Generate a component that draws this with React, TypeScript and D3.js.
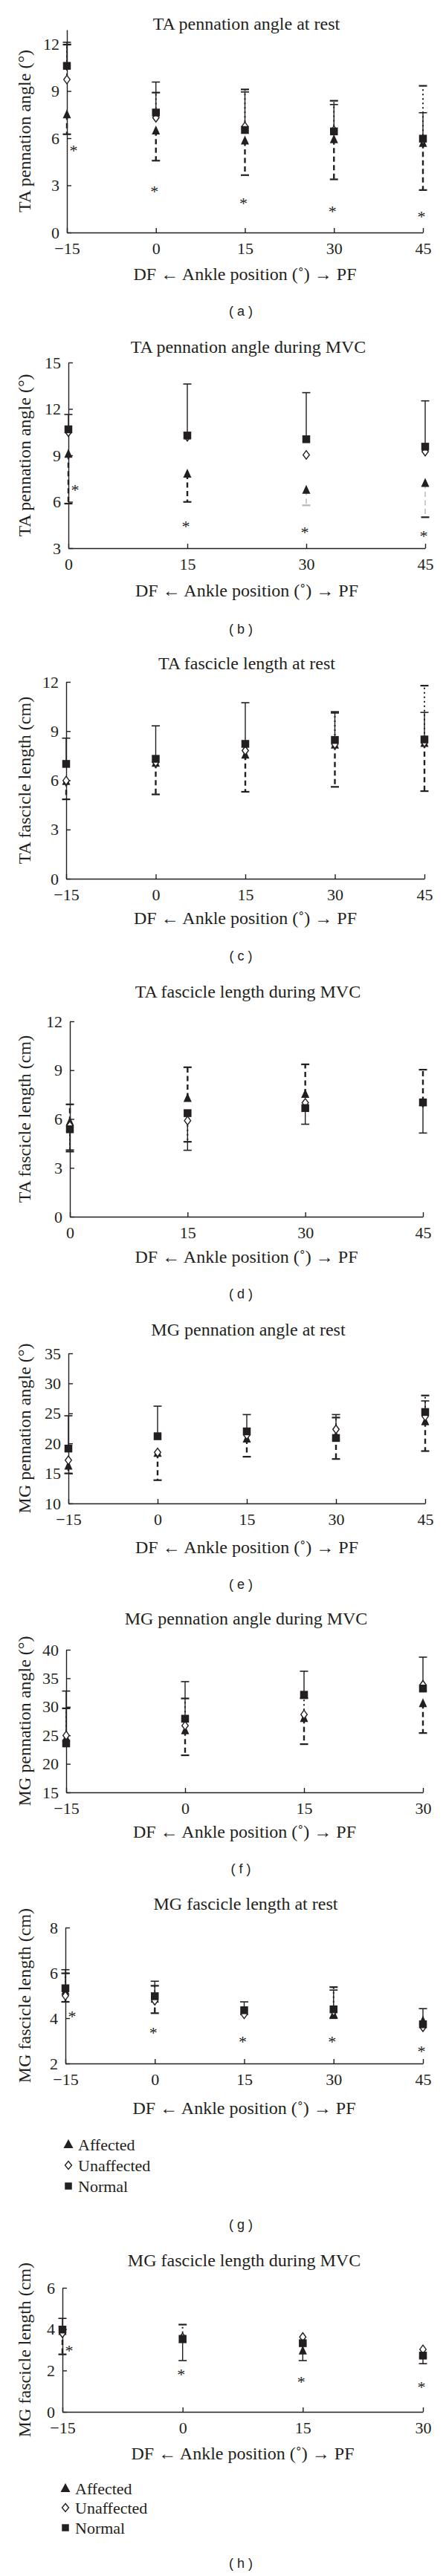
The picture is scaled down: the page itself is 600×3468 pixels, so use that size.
import React from 'react';
import * as d3 from 'd3';

const SERIF = '"Liberation Serif", "Times New Roman", serif';
const SANS = '"Liberation Sans", Arial, sans-serif';
const INK = '#231f20';

type V = number | null;

// ---------- (a) TA pennation angle at rest ----------
const aPositions = [-15, 0, 15, 30, 45];
const aYTicks = [0, 3, 6, 9, 12];
const aAffected = [7.5, 6.48, 5.84, 5.92, 5.68];
const aUnaffected = [9.73, 7.3, 6.75, 6.5, 5.9];
const aNormal = [10.6, 7.63, 6.52, 6.43, 5.97];
const aAffectedSD: V[] = [6.25, 4.57, 3.65, 3.38, 2.7];
const aUnaffectedSD: V[] = [11.95, 8.9, 9.1, 8.38, 9.33];
const aNormalSD: V[] = [12.1, 9.57, 8.94, 8.14, 7.62];
const aStars: V[] = [5.37, 2.75, 2.03, 1.48, 1.16];

// ---------- (b) TA pennation angle during MVC ----------
const bPositions = [0, 15, 30, 45];
const bYTicks = [3, 6, 9, 12, 15];
const bAffected = [9.08, 7.8, 6.76, 7.2];
const bUnaffected = [10.5, 10.2, 9.03, 9.24];
const bNormal = [10.68, 10.28, 10.04, 9.56];
const bAffectedSD: V[] = [5.88, 5.99, 5.77, 5.0];
const bUnaffectedSD: V[] = [null, null, null, null];
const bNormalSD: V[] = [11.64, 13.61, 13.05, 12.52];
const bStars: V[] = [6.92, 4.55, 4.17, 3.96];

// ---------- (c) TA fascicle length at rest ----------
const cPositions = [-15, 0, 15, 30, 45];
const cYTicks = [0, 3, 6, 9, 12];
const cAffected = [5.94, 7.05, 7.55, 8.16, 8.27];
const cUnaffected = [5.98, 7.1, 7.81, 8.2, 8.3];
const cNormal = [7.0, 7.31, 8.22, 8.46, 8.49];
const cAffectedSD: V[] = [4.84, 5.14, 5.3, 5.6, 5.34];
const cUnaffectedSD: V[] = [null, null, null, 10.17, 11.77];
const cNormalSD: V[] = [8.57, 9.32, 10.73, 10.1, 10.14];
const cStars: V[] = [null, null, null, null, null];

// ---------- (d) TA fascicle length during MVC ----------
const dPositions = [0, 15, 30, 45];
const dYTicks = [0, 3, 6, 9, 12];
const dAffected = [5.83, 7.28, 7.53, 7.05];
const dUnaffected = [5.6, 5.9, 7.0, 7.0];
const dNormal = [5.37, 6.36, 6.67, 7.02];
const dAffectedSD: V[] = [6.9, 9.18, 9.36, 9.03];
const dUnaffectedSD: V[] = [4.0, 4.6, null, null];
const dNormalSD: V[] = [4.1, 4.08, 5.68, 5.14];
const dStars: V[] = [null, null, null, null];

// ---------- (e) MG pennation angle at rest ----------
const ePositions = [-15, 0, 15, 30, 45];
const eYTicks = [10, 15, 20, 25, 30, 35];
const eAffected = [16.26, 18.4, 20.78, 21.2, 23.66];
const eUnaffected = [17.2, 18.5, 21.4, 22.35, 24.5];
const eNormal = [19.14, 21.19, 22.0, 20.9, 25.23];
const eAffectedSD: V[] = [15.0, 13.87, 17.78, 17.4, 18.72];
const eUnaffectedSD: V[] = [null, null, null, 24.3, 27.98];
const eNormalSD: V[] = [24.6, 26.2, 24.8, 24.8, 27.08];
const eStars: V[] = [null, null, null, null, null];

// ---------- (f) MG pennation angle during MVC ----------
const fPositions = [-15, 0, 15, 30];
const fYTicks = [15, 20, 25, 30, 35, 40];
const fAffected = [24.53, 25.83, 28.0, 30.6];
const fUnaffected = [24.97, 26.7, 28.65, 33.85];
const fNormal = [23.58, 27.91, 32.11, 33.2];
const fAffectedSD: V[] = [null, 21.5, 23.45, 25.4];
const fUnaffectedSD: V[] = [29.73, 31.46, 31.5, null];
const fNormalSD: V[] = [32.76, 34.41, 36.23, 38.7];
const fStars: V[] = [null, null, null, null];

// ---------- (g) MG fascicle length at rest ----------
const gPositions = [-15, 0, 15, 30, 45];
const gYTicks = [2, 4, 6, 8];
const gAffected = [5.2, 4.85, 4.3, 4.17, 3.89];
const gUnaffected = [4.99, 4.77, 4.17, 4.3, 3.6];
const gNormal = [5.32, 4.97, 4.35, 4.39, 3.73];
const gAffectedSD: V[] = [4.72, 4.22, null, 4.0, null];
const gUnaffectedSD: V[] = [5.98, 5.43, null, 5.37, null];
const gNormalSD: V[] = [6.14, 5.63, 4.72, 5.24, 4.42];
const gStars: V[] = [4.17, 3.46, 3.05, 3.05, 2.64];

// ---------- (h) MG fascicle length during MVC ----------
const hPositions = [-15, 0, 15, 30];
const hYTicks = [0, 2, 4, 6];
const hAffected = [3.9, 3.5, 2.96, 2.8];
const hUnaffected = [3.8, 3.6, 3.62, 3.02];
const hNormal = [3.98, 3.53, 3.32, 2.72];
const hAffectedSD: V[] = [2.78, null, null, null];
const hUnaffectedSD: V[] = [null, 4.22, null, null];
const hNormalSD: V[] = [4.52, 2.48, 2.48, 2.33];
const hStars: V[] = [3.08, 1.94, 1.57, 1.3];

const legendLabels = ['Affected', 'Unaffected', 'Normal'];
const xAxisLabel = 'DF \u2190 Ankle position (\u02DA) \u2192 PF';

interface Panel {
  tag: string; title: string; yLabel: string;
  positions: number[]; yTicks: number[]; yMin: number; yMax: number;
  left: number; right: number; top: number; bottom: number;
  titleY: number; xLabelY: number; tagY: number;
  affected: number[]; unaffected: number[]; normal: number[];
  affectedSD: V[]; unaffectedSD: V[]; normalSD: V[]; stars: V[];
  faint?: number[];
  legend?: { x: number; rows: number[] };
}

const panels: Panel[] = [
  { tag: 'a', title: 'TA pennation angle at rest', yLabel: 'TA pennation angle (\u00B0)',
    positions: aPositions, yTicks: aYTicks, yMin: 0, yMax: 12.9,
    left: 90, right: 569, top: 40, bottom: 313, titleY: 32, xLabelY: 369, tagY: 419,
    affected: aAffected, unaffected: aUnaffected, normal: aNormal,
    affectedSD: aAffectedSD, unaffectedSD: aUnaffectedSD, normalSD: aNormalSD, stars: aStars },
  { tag: 'b', title: 'TA pennation angle during MVC', yLabel: 'TA pennation angle (\u00B0)',
    positions: bPositions, yTicks: bYTicks, yMin: 3, yMax: 15,
    left: 92, right: 572, top: 488, bottom: 738, titleY: 467, xLabelY: 795, tagY: 847,
    affected: bAffected, unaffected: bUnaffected, normal: bNormal,
    affectedSD: bAffectedSD, unaffectedSD: bUnaffectedSD, normalSD: bNormalSD, stars: bStars,
    faint: [0, 0, 2, 1] },
  { tag: 'c', title: 'TA fascicle length at rest', yLabel: 'TA fascicle length (cm)',
    positions: cPositions, yTicks: cYTicks, yMin: 0, yMax: 12,
    left: 89, right: 571, top: 918, bottom: 1183, titleY: 893, xLabelY: 1236, tagY: 1287,
    affected: cAffected, unaffected: cUnaffected, normal: cNormal,
    affectedSD: cAffectedSD, unaffectedSD: cUnaffectedSD, normalSD: cNormalSD, stars: cStars },
  { tag: 'd', title: 'TA fascicle length during MVC', yLabel: 'TA fascicle length (cm)',
    positions: dPositions, yTicks: dYTicks, yMin: 0, yMax: 12,
    left: 94, right: 569, top: 1375, bottom: 1638, titleY: 1335, xLabelY: 1692, tagY: 1742,
    affected: dAffected, unaffected: dUnaffected, normal: dNormal,
    affectedSD: dAffectedSD, unaffectedSD: dUnaffectedSD, normalSD: dNormalSD, stars: dStars },
  { tag: 'e', title: 'MG pennation angle at rest', yLabel: 'MG pennation angle (\u00B0)',
    positions: ePositions, yTicks: eYTicks, yMin: 10, yMax: 35,
    left: 92, right: 572, top: 1822, bottom: 2024, titleY: 1790, xLabelY: 2083, tagY: 2133,
    affected: eAffected, unaffected: eUnaffected, normal: eNormal,
    affectedSD: eAffectedSD, unaffectedSD: eUnaffectedSD, normalSD: eNormalSD, stars: eStars },
  { tag: 'f', title: 'MG pennation angle during MVC', yLabel: 'MG pennation angle (\u00B0)',
    positions: fPositions, yTicks: fYTicks, yMin: 15, yMax: 40,
    left: 89, right: 569, top: 2221, bottom: 2413, titleY: 2179, xLabelY: 2466, tagY: 2516,
    affected: fAffected, unaffected: fUnaffected, normal: fNormal,
    affectedSD: fAffectedSD, unaffectedSD: fUnaffectedSD, normalSD: fNormalSD, stars: fStars },
  { tag: 'g', title: 'MG fascicle length at rest', yLabel: 'MG fascicle length (cm)',
    positions: gPositions, yTicks: gYTicks, yMin: 2, yMax: 8,
    left: 88, right: 569, top: 2595, bottom: 2778, titleY: 2563, xLabelY: 2838, tagY: 2995,
    affected: gAffected, unaffected: gUnaffected, normal: gNormal,
    affectedSD: gAffectedSD, unaffectedSD: gUnaffectedSD, normalSD: gNormalSD, stars: gStars,
    legend: { x: 92, rows: [2887, 2915, 2943] } },
  { tag: 'h', title: 'MG fascicle length during MVC', yLabel: 'MG fascicle length (cm)',
    positions: hPositions, yTicks: hYTicks, yMin: 0, yMax: 6,
    left: 84, right: 569, top: 3080, bottom: 3247, titleY: 3043, xLabelY: 3303, tagY: 3451,
    affected: hAffected, unaffected: hUnaffected, normal: hNormal,
    affectedSD: hAffectedSD, unaffectedSD: hUnaffectedSD, normalSD: hNormalSD, stars: hStars,
    legend: { x: 88, rows: [3350, 3376, 3403] } },
];

function trianglePath(w: number, h: number) {
  const p = d3.path();
  p.moveTo(0, -h * 0.58);
  p.lineTo(w / 2, h * 0.42);
  p.lineTo(-w / 2, h * 0.42);
  p.closePath();
  return p.toString();
}
function diamondPath(w: number, h: number) {
  const p = d3.path();
  p.moveTo(0, -h / 2);
  p.lineTo(w / 2, 0);
  p.lineTo(0, h / 2);
  p.lineTo(-w / 2, 0);
  p.closePath();
  return p.toString();
}
function squarePath(s: number) {
  const p = d3.path();
  p.rect(-s / 2, -s / 2, s, s);
  return p.toString();
}

type Sel = d3.Selection<any, unknown, null, undefined>;

function drawPanel(svg: Sel, p: Panel) {
  const x = d3.scaleLinear().domain([p.positions[0], p.positions[p.positions.length - 1]]).range([p.left, p.right]);
  const y = d3.scaleLinear().domain([p.yMin, p.yMax]).range([p.bottom, p.top]);
  const g = svg.append('g');

  const txt = (sel: Sel, size: number, family = SERIF) =>
    sel.attr('fill', INK).style('font-family', family).style('font-size', `${size}px`);

  txt(g.append('text'), 24)
    .attr('x', (p.left + p.right) / 2 + 2).attr('y', p.titleY)
    .attr('text-anchor', 'middle').attr('dominant-baseline', 'central').text(p.title);

  // axes
  const yAxis = d3.axisLeft(y).tickValues(p.yTicks).tickSize(-6).tickSizeOuter(0).tickPadding(10)
    .tickFormat(d3.format('d'));
  const ya = g.append('g').attr('transform', `translate(${p.left},0)`).call(yAxis as any);
  const xAxis = d3.axisBottom(x).tickValues(p.positions).tickSize(-6).tickSizeOuter(0).tickPadding(13)
    .tickFormat((d: any) => (d < 0 ? '\u2212' + Math.abs(d) : String(d)));
  const xa = g.append('g').attr('transform', `translate(0,${p.bottom})`).call(xAxis as any);
  [ya, xa].forEach((a) => {
    a.attr('font-family', null).attr('font-size', null);
    a.select('.domain').attr('stroke', INK).attr('stroke-width', 1.4);
    a.selectAll('.tick line').attr('stroke', INK).attr('stroke-width', 1.4);
    a.selectAll('.tick text').attr('fill', INK).style('font-family', SERIF).style('font-size', '22px');
  });

  txt(g.append('text'), 24)
    .attr('transform', `translate(33,${(p.top + p.bottom) / 2}) rotate(-90)`)
    .attr('text-anchor', 'middle').attr('dominant-baseline', 'central').text(p.yLabel);
  txt(g.append('text'), 24)
    .attr('x', (p.left + p.right) / 2).attr('y', p.xLabelY)
    .attr('text-anchor', 'middle').attr('dominant-baseline', 'central').text(xAxisLabel);
  txt(g.append('text'), 18, SANS)
    .attr('x', 324).attr('y', p.tagY)
    .attr('text-anchor', 'middle').attr('dominant-baseline', 'central')
    .style('white-space', 'pre').text(`( ${p.tag} )`);

  // error bars
  const plot = g.append('g');
  const series: { means: number[]; sd: V[]; kind: string }[] = [
    { means: p.affected, sd: p.affectedSD, kind: 'dashed' },
    { means: p.unaffected, sd: p.unaffectedSD, kind: 'dotted' },
    { means: p.normal, sd: p.normalSD, kind: 'solid' },
  ];
  series.forEach((s) => {
    p.positions.forEach((pos, i) => {
      const end = s.sd[i];
      if (end == null) return;
      const cx = x(pos);
      const faintLevel = s.kind === 'dashed' && p.faint ? p.faint[i] : 0;
      const lineColor = faintLevel ? '#b5b5b5' : INK;
      const capColor = faintLevel === 2 ? '#b5b5b5' : INK;
      const ln = plot.append('line')
        .attr('x1', cx).attr('x2', cx).attr('y1', y(s.means[i])).attr('y2', y(end))
        .attr('stroke', lineColor);
      if (s.kind === 'dashed') ln.attr('stroke-width', faintLevel ? 1.4 : 2.4).attr('stroke-dasharray', '7,4.5');
      else if (s.kind === 'dotted') ln.attr('stroke-width', 2).attr('stroke-dasharray', '2,4');
      else ln.attr('stroke-width', 1.4);
      plot.append('line')
        .attr('x1', cx - 5.5).attr('x2', cx + 5.5).attr('y1', y(end)).attr('y2', y(end))
        .attr('stroke', capColor).attr('stroke-width', s.kind === 'solid' ? 1.6 : 2.2);
    });
  });

  // markers: affected, unaffected, normal
  p.positions.forEach((pos, i) => {
    plot.append('path').attr('d', trianglePath(11, 12))
      .attr('transform', `translate(${x(pos)},${y(p.affected[i])})`).attr('fill', INK);
  });
  p.positions.forEach((pos, i) => {
    plot.append('path').attr('d', diamondPath(8.5, 11.5))
      .attr('transform', `translate(${x(pos)},${y(p.unaffected[i])})`)
      .attr('fill', '#fff').attr('stroke', INK).attr('stroke-width', 1.4);
  });
  p.positions.forEach((pos, i) => {
    plot.append('path').attr('d', squarePath(10.5))
      .attr('transform', `translate(${x(pos)},${y(p.normal[i])})`).attr('fill', INK);
  });

  // significance stars
  p.positions.forEach((pos, i) => {
    const v = p.stars[i];
    if (v == null) return;
    txt(plot.append('text'), 22)
      .attr('x', x(pos) + (i === 0 ? 9 : -2)).attr('y', y(v) + 10.5)
      .attr('text-anchor', 'middle').text('*');
  });

  // legend
  if (p.legend) {
    const lg = g.append('g');
    const shapes = [trianglePath(13, 12), diamondPath(9, 11), squarePath(9.5)];
    p.legend.rows.forEach((ry, k) => {
      const m = lg.append('path').attr('d', shapes[k]).attr('transform', `translate(${p.legend!.x},${ry})`);
      if (k === 1) m.attr('fill', '#fff').attr('stroke', INK).attr('stroke-width', 1.4);
      else m.attr('fill', INK);
      txt(lg.append('text'), 22)
        .attr('x', p.legend!.x + 13).attr('y', ry)
        .attr('dominant-baseline', 'central').text(legendLabels[k]);
    });
  }
}

export default function App() {
  const ref = React.useRef<SVGSVGElement>(null);
  React.useEffect(() => {
    const svg = d3.select(ref.current as SVGSVGElement);
    svg.selectAll('*').remove();
    panels.forEach((p) => drawPanel(svg as any, p));
  }, []);
  return (
    <svg
      ref={ref}
      width={600}
      height={3468}
      style={{ position: 'absolute', left: 0, top: 0, background: '#fff' }}
    />
  );
}
